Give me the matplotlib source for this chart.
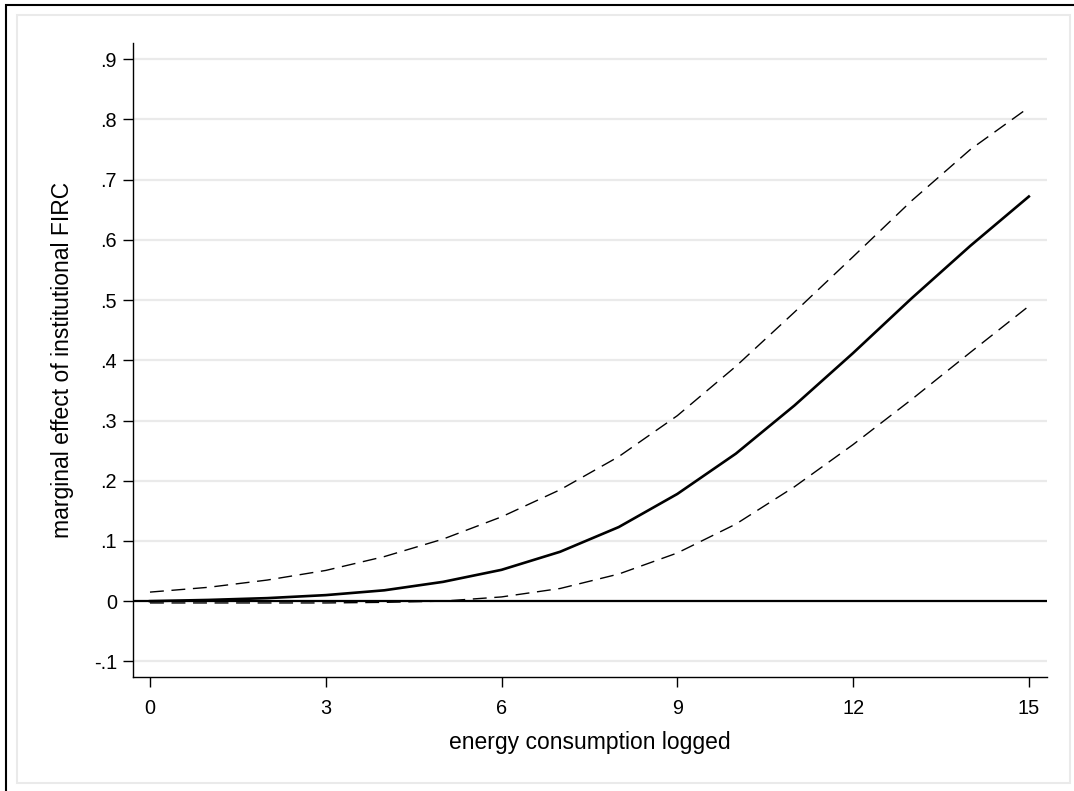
import matplotlib
matplotlib.use("Agg")
import matplotlib.pyplot as plt
from matplotlib.patches import Rectangle

energy = [0, 1, 2, 3, 4, 5, 6, 7, 8, 9, 10, 11, 12, 13, 14, 15]
effect = [0.000, 0.002, 0.005, 0.010, 0.018, 0.032, 0.052, 0.082, 0.123,
          0.178, 0.245, 0.325, 0.412, 0.503, 0.590, 0.672]
upper = [0.015, 0.023, 0.035, 0.051, 0.074, 0.103, 0.140, 0.185, 0.240,
         0.308, 0.390, 0.480, 0.572, 0.665, 0.750, 0.820]
lower = [-0.003, -0.003, -0.003, -0.003, -0.002, 0.000, 0.007, 0.021, 0.045,
         0.080, 0.128, 0.190, 0.260, 0.335, 0.413, 0.490]
xticks = [0, 3, 6, 9, 12, 15]
yticks = [-0.1, 0, 0.1, 0.2, 0.3, 0.4, 0.5, 0.6, 0.7, 0.8, 0.9]
ytick_labels = ["-.1", "0", ".1", ".2", ".3", ".4", ".5", ".6", ".7", ".8", ".9"]

plt.rcParams['font.family'] = ['Liberation Sans', 'DejaVu Sans']

W, H = 1074, 791
fig = plt.figure(figsize=(W / 100, H / 100), dpi=100)
fig.patch.set_facecolor('white')

# outer black border and inner light frame
fig.add_artist(Rectangle((6 / W, -0.01), 1.02, (H - 5) / H + 0.01, transform=fig.transFigure,
                         fill=False, edgecolor='black', linewidth=1.5))
fig.add_artist(Rectangle((17 / W, 1 - 783 / H), (1070 - 17) / W, (783 - 15) / H,
                         transform=fig.transFigure, fill=False, edgecolor='#eaeaea', linewidth=1.5))

ax = fig.add_axes([133 / W, 1 - 677 / H, (1047 - 133) / W, (677 - 43) / H])
ax.set_facecolor('white')

ax.set_xlim(-0.29, 15.31)
ax.set_ylim(-0.126, 0.927)

for yv in yticks:
    ax.axhline(yv, color='#eaeaea', linewidth=1.6, zorder=0)

ax.axhline(0, color='black', linewidth=1.6, zorder=2)
ax.plot(energy, lower, color='black', linewidth=1.0, dashes=(10, 5.5), zorder=3)
ax.plot(energy, upper, color='black', linewidth=1.0, dashes=(10, 5.5), zorder=3)
ax.plot(energy, effect, color='black', linewidth=1.9, zorder=4)

ax.set_xticks(xticks)
ax.set_xticklabels([str(v) for v in xticks])
ax.set_yticks(yticks)
ax.set_yticklabels(ytick_labels)
ax.tick_params(axis='both', direction='out', length=7.5, width=1, color='black',
               labelsize=14.3)
ax.tick_params(axis='x', pad=8)
ax.tick_params(axis='y', pad=4)

for s in ['top', 'right']:
    ax.spines[s].set_visible(False)
for s in ['left', 'bottom']:
    ax.spines[s].set_linewidth(1.0)

ax.set_xlabel("energy consumption logged", fontsize=16.5, labelpad=10)
ax.set_ylabel("marginal effect of institutional FIRC", fontsize=16.5, labelpad=14)

fig.savefig("out.png", dpi=100)
